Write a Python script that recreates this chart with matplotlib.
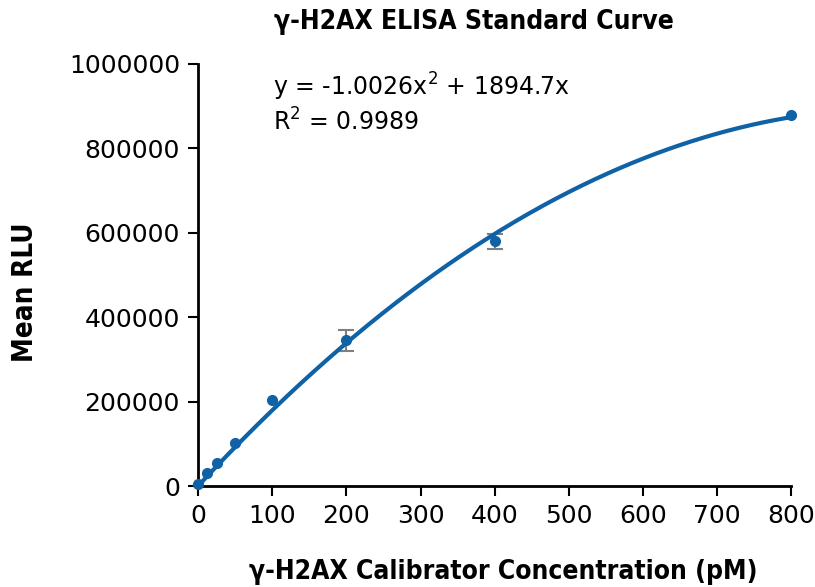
import numpy as np
import matplotlib.pyplot as plt

# calibrator concentrations (pM) and mean RLU
conc = [0, 12.5, 25, 50, 100, 200, 400, 800]
mean_rlu = [5000, 30000, 55000, 103000, 203000, 345000, 580000, 880000]
err_conc = [200, 400]
err_rlu = [345000, 580000]
err_size = [25000, 18000]

# polynomial trendline as printed on the chart (intercept 0)
fit_coef = [-1.0026, 1894.7, 0.0]
fit_label = "y = -1.0026x$^2$ + 1894.7x\nR$^2$ = 0.9989"

blue = '#0f62a6'

fig = plt.figure(figsize=(8.15, 5.87), dpi=100)
ax = fig.add_axes([0.243, 0.172, 0.728, 0.719])

xs = np.linspace(0, 800, 400)
ax.plot(xs, np.polyval(fit_coef, xs), color=blue, lw=3, clip_on=False, zorder=3)
ax.errorbar(err_conc, err_rlu, yerr=err_size, fmt='none', ecolor='#7f7f7f',
            elinewidth=1.5, capsize=6, capthick=1.5, zorder=2)
ax.plot(conc, mean_rlu, 'o', color=blue, ms=7, zorder=4, clip_on=False)

ax.set_xlim(0, 800)
ax.set_ylim(0, 1000000)
ax.set_xticks(range(0, 801, 100))
ax.set_yticks(range(0, 1000001, 200000))
ax.set_yticklabels([str(v) for v in range(0, 1000001, 200000)])

for s in ['top', 'right']:
    ax.spines[s].set_visible(False)
for s in ['left', 'bottom']:
    ax.spines[s].set_linewidth(2)
ax.tick_params(direction='out', length=7, width=1.5, labelsize=18, pad=6)

lab = dict(fontweight='bold', family='DejaVu Sans', stretch='condensed')
fig.text(474 / 815, 1 - 22 / 587, 'γ-H2AX ELISA Standard Curve', fontsize=19,
         ha='center', va='center', **lab)
fig.text(503 / 815, 1 - 572 / 587, 'γ-H2AX Calibrator Concentration (pM)', fontsize=19,
         ha='center', va='center', **lab)
fig.text(25 / 815, 1 - 292 / 587, 'Mean RLU', fontsize=20, rotation=90,
         ha='center', va='center', **lab)

ax.text(0.126, 0.985, fit_label, transform=ax.transAxes, fontsize=17,
        va='top', ha='left', linespacing=1.25)

fig.savefig('out.png', dpi=100)
